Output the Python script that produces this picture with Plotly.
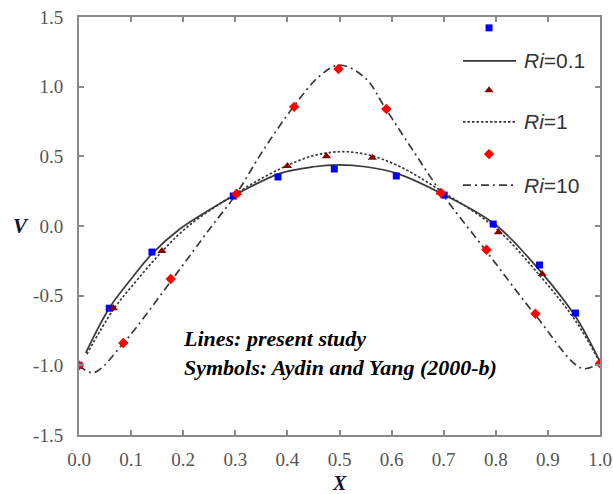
import plotly.graph_objects as go

# ---------------- data ----------------
# symbols (Aydin and Yang 2000-b)
sq_x = [0.0, 0.058, 0.140, 0.296, 0.382, 0.490, 0.609, 0.701, 0.795, 0.884, 0.953]
sq_y = [-1.0, -0.59, -0.187, 0.215, 0.352, 0.409, 0.359, 0.222, 0.014, -0.28, -0.625]

tri_x = [0.0, 0.066, 0.159, 0.304, 0.400, 0.475, 0.563, 0.693, 0.805, 0.889, 1.0]
tri_y = [-1.0, -0.59, -0.18, 0.237, 0.43, 0.50, 0.49, 0.24, -0.045, -0.345, -0.985]

dia_x = [0.0, 0.085, 0.176, 0.302, 0.413, 0.498, 0.590, 0.695, 0.782, 0.876, 1.0]
dia_y = [-1.0, -0.84, -0.38, 0.23, 0.855, 1.127, 0.84, 0.237, -0.17, -0.63, -0.985]

# lines (present study)
l01_x = [0.013, 0.058, 0.098, 0.140, 0.194, 0.250, 0.306, 0.386, 0.450, 0.500, 0.550, 0.610, 0.700, 0.800, 0.889, 0.953, 1.0]
l01_y = [-0.91, -0.59, -0.39, -0.20, -0.02, 0.115, 0.235, 0.378, 0.425, 0.438, 0.425, 0.378, 0.225, 0.007, -0.34, -0.65, -0.975]

l1_x = [0.015, 0.066, 0.111, 0.160, 0.210, 0.300, 0.386, 0.450, 0.500, 0.550, 0.614, 0.700, 0.800, 0.889, 0.953, 1.0]
l1_y = [-0.92, -0.60, -0.39, -0.18, 0.0, 0.23, 0.41, 0.505, 0.533, 0.515, 0.43, 0.24, -0.016, -0.376, -0.68, -0.98]

l10_x = [0.0, 0.0275, 0.085, 0.178, 0.255, 0.300, 0.354, 0.412, 0.460, 0.500, 0.550, 0.588, 0.649, 0.694, 0.780, 0.876, 0.966, 1.0]
l10_y = [-1.0, -1.053, -0.842, -0.388, 0.0, 0.22, 0.546, 0.857, 1.07, 1.155, 1.06, 0.845, 0.497, 0.246, -0.172, -0.639, -1.022, -0.98]

x_ticks = [0.0, 0.1, 0.2, 0.3, 0.4, 0.5, 0.6, 0.7, 0.8, 0.9, 1.0]
x_ticktext = ["0.0", "0.1", "0.2", "0.3", "0.4", "0.5", "0.6", "0.7", "0.8", "0.9", "1.0"]
y_ticks = [-1.5, -1.0, -0.5, 0.0, 0.5, 1.0, 1.5]
y_ticktext = ["-1.5", "-1.0", "-0.5", "0.0", "0.5", "1.0", "1.5"]

legend_labels = ["<i>Ri</i>=0.1", "<i>Ri</i>=1", "<i>Ri</i>=10"]

# ---------------- styles ----------------
LINE_COL = "#3a3a3a"
BLUE = "#0000ff"
DRED = "#8b0000"
RED = "#ff0000"
AXCOL = "#8a8a8a"
TICKFONT = dict(family="Liberation Serif", size=19, color="#555555")

fig = go.Figure()

fig.add_trace(go.Scatter(x=l01_x, y=l01_y, mode="lines", line=dict(color=LINE_COL, width=1.7, shape="spline")))
fig.add_trace(go.Scatter(x=l1_x, y=l1_y, mode="lines", line=dict(color=LINE_COL, width=1.7, dash="2.5px,2px", shape="spline")))
fig.add_trace(go.Scatter(x=l10_x, y=l10_y, mode="lines", line=dict(color=LINE_COL, width=1.7, dash="8px,4px,2px,4px", shape="spline")))

fig.add_trace(go.Scatter(x=sq_x, y=sq_y, mode="markers", marker=dict(symbol="square", color=BLUE, size=7)))
fig.add_trace(go.Scatter(x=tri_x, y=tri_y, mode="markers", marker=dict(symbol="triangle-up", color=DRED, size=8)))
fig.add_trace(go.Scatter(x=dia_x, y=dia_y, mode="markers", marker=dict(symbol="diamond", color=RED, size=8)))

# ---------------- manual legend (overlay axes in [0,1]) ----------------
lx0, lx1, lmx, ltx = 0.737, 0.839, 0.787, 0.850
rows_marker = [0.974, 0.825, 0.672]
rows_line = [0.895, 0.749, 0.598]
msyms = [("square", BLUE, 7), ("triangle-up", DRED, 8), ("diamond", RED, 8)]
ldash = ["solid", "2.5px,2px", "8px,4px,2px,4px"]
for i in range(3):
    s, c, sz = msyms[i]
    fig.add_trace(go.Scatter(x=[lmx], y=[rows_marker[i]], xaxis="x2", yaxis="y2", mode="markers",
                             marker=dict(symbol=s, color=c, size=sz)))
    fig.add_trace(go.Scatter(x=[lx0, lx1], y=[rows_line[i]] * 2, xaxis="x2", yaxis="y2", mode="lines",
                             line=dict(color=LINE_COL, width=1.7, dash=ldash[i])))
    fig.add_annotation(x=ltx, y=rows_line[i], xref="x2", yref="y2", text=legend_labels[i],
                       showarrow=False, xanchor="left", yanchor="middle",
                       font=dict(family="Liberation Sans", size=21, color="#333333"))

fig.add_annotation(x=0.195, y=0.196, xref="paper", yref="paper",
                   text="<b><i>Lines: present study</i></b><br><b><i>Symbols: Aydin and Yang (2000-b)</i></b>",
                   showarrow=False, xanchor="left", yanchor="middle", align="left",
                   font=dict(family="Liberation Serif", size=22, color="#000000"))

# axis titles as horizontal text
fig.add_annotation(x=-0.111, y=0.5, xref="paper", yref="paper", text="<b><i>V</i></b>",
                   showarrow=False, xanchor="center", yanchor="middle",
                   font=dict(family="Liberation Serif", size=21, color="#111133"))
fig.add_annotation(x=0.5, y=-0.115, xref="paper", yref="paper", text="<b><i>X</i></b>",
                   showarrow=False, xanchor="center", yanchor="middle",
                   font=dict(family="Liberation Serif", size=20, color="#111133"))

axis_common = dict(showgrid=False, zeroline=False, showline=True, linecolor=AXCOL, linewidth=2,
                   ticks="inside", ticklen=5, tickwidth=1.5, tickcolor=AXCOL, mirror="ticks",
                   tickfont=TICKFONT, automargin=False)

fig.update_layout(
    width=613, height=494,
    autosize=False,
    margin=dict(l=79, r=13, t=17, b=59, autoexpand=False),
    paper_bgcolor="white", plot_bgcolor="white",
    showlegend=False,
    xaxis=dict(range=[0, 1], tickvals=x_ticks, ticktext=x_ticktext, ticklabelstandoff=6, **axis_common),
    yaxis=dict(range=[-1.5, 1.5], tickvals=y_ticks, ticktext=y_ticktext, ticklabelstandoff=10, **axis_common),
    xaxis2=dict(range=[0, 1], overlaying="x", visible=False),
    yaxis2=dict(range=[0, 1], overlaying="y", visible=False),
)

fig.write_html("out.html")
